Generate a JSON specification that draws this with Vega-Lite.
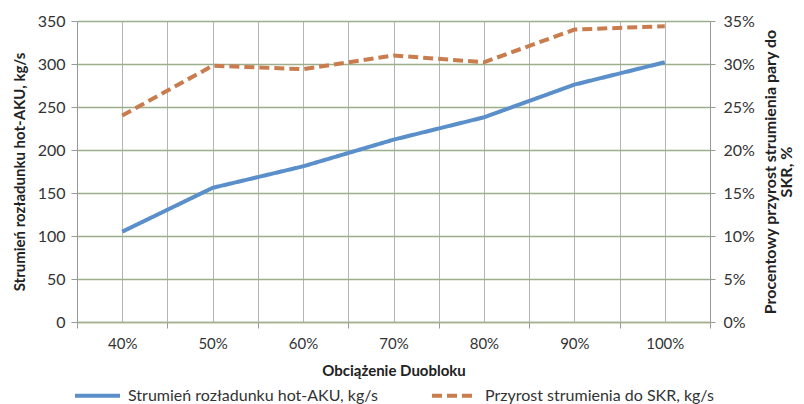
{
  "$schema": "https://vega.github.io/schema/vega-lite/v6.json",
  "autosize": "none",
  "width": 633,
  "height": 301,
  "padding": {"left": 77, "top": 21, "right": 94, "bottom": 82},
  "background": "white",
  "config": {
    "font": "Lato",
    "view": {"stroke": null},
    "axis": {"labelFont": "Lato", "titleFont": "Lato", "labelColor": "#333", "titleColor": "#222"}
  },
  "data": {
    "values": [
      {"x": 40, "series": "Strumień rozładunku hot-AKU, kg/s", "value": 105},
      {"x": 50, "series": "Strumień rozładunku hot-AKU, kg/s", "value": 156},
      {"x": 60, "series": "Strumień rozładunku hot-AKU, kg/s", "value": 181},
      {"x": 70, "series": "Strumień rozładunku hot-AKU, kg/s", "value": 212},
      {"x": 80, "series": "Strumień rozładunku hot-AKU, kg/s", "value": 238},
      {"x": 90, "series": "Strumień rozładunku hot-AKU, kg/s", "value": 276},
      {"x": 100, "series": "Strumień rozładunku hot-AKU, kg/s", "value": 302},
      {"x": 40, "series": "Przyrost strumienia do SKR, kg/s", "value": 0.24},
      {"x": 50, "series": "Przyrost strumienia do SKR, kg/s", "value": 0.298},
      {"x": 60, "series": "Przyrost strumienia do SKR, kg/s", "value": 0.294},
      {"x": 70, "series": "Przyrost strumienia do SKR, kg/s", "value": 0.31},
      {"x": 80, "series": "Przyrost strumienia do SKR, kg/s", "value": 0.302},
      {"x": 90, "series": "Przyrost strumienia do SKR, kg/s", "value": 0.34},
      {"x": 100, "series": "Przyrost strumienia do SKR, kg/s", "value": 0.344}
    ]
  },
  "encoding": {
    "x": {
      "field": "x",
      "type": "quantitative",
      "scale": {"domain": [35, 105], "nice": false, "zero": false},
      "axis": {
        "values": [35, 40, 45, 50, 55, 60, 65, 70, 75, 80, 85, 90, 95, 100, 105],
        "labelExpr": "datum.value % 10 == 0 ? datum.value + '%' : ''",
        "labelFontSize": 15,
        "labelPadding": 8,
        "tickSize": 6,
        "tickColor": "#999",
        "tickOpacity": {"condition": {"test": "datum.value % 10 == 5", "value": 1}, "value": 0},
        "domainColor": "#a8b090",
        "domainWidth": 1.5,
        "grid": true,
        "gridColor": "#b4b4b4",
        "gridWidth": 1,
        "title": "Obciążenie Duobloku",
        "titleFontSize": 15,
        "titleFontWeight": "bold",
        "titlePadding": 12
      }
    },
    "color": {
      "field": "series",
      "type": "nominal",
      "scale": {
        "domain": ["Strumień rozładunku hot-AKU, kg/s", "Przyrost strumienia do SKR, kg/s"],
        "range": ["#5b8fc9", "#c97d4e"]
      },
      "legend": {
        "title": null,
        "orient": "none",
        "direction": "horizontal",
        "legendX": -4,
        "legendY": 350,
        "symbolType": "stroke",
        "symbolSize": 2025,
        "symbolStrokeWidth": 4,
        "labelFontSize": 16,
        "labelColor": "#333",
        "labelFont": "Lato",
        "labelLimit": 0,
        "columnPadding": 46,
        "labelOffset": 6
      }
    },
    "strokeDash": {
      "field": "series",
      "type": "nominal",
      "scale": {
        "domain": ["Strumień rozładunku hot-AKU, kg/s", "Przyrost strumienia do SKR, kg/s"],
        "range": [[1, 0], [10, 5]]
      },
      "legend": {
        "title": null,
        "orient": "none",
        "direction": "horizontal",
        "legendX": -4,
        "legendY": 350,
        "symbolType": "stroke",
        "symbolSize": 2025,
        "symbolStrokeWidth": 4,
        "labelFontSize": 16,
        "labelColor": "#333",
        "labelFont": "Lato",
        "labelLimit": 0,
        "columnPadding": 46,
        "labelOffset": 6
      }
    }
  },
  "layer": [
    {
      "transform": [{"filter": "datum.series == 'Strumień rozładunku hot-AKU, kg/s'"}],
      "mark": {"type": "line", "strokeWidth": 4, "strokeCap": "butt"},
      "encoding": {
        "y": {
          "field": "value",
          "type": "quantitative",
          "scale": {"domain": [0, 350], "nice": false},
          "axis": {
            "values": [0, 50, 100, 150, 200, 250, 300, 350],
            "labelFontSize": 16,
            "labelPadding": 6,
            "tickSize": 6,
            "tickColor": "#999",
            "domainColor": "#999",
            "grid": true,
            "gridColor": "#9cae8c",
            "gridWidth": 1.5,
            "title": "Strumień rozładunku hot-AKU, kg/s",
            "titleFontSize": 15,
            "titleFontWeight": "bold",
            "titlePadding": 10
          }
        }
      }
    },
    {
      "transform": [{"filter": "datum.series == 'Przyrost strumienia do SKR, kg/s'"}],
      "mark": {"type": "line", "strokeWidth": 4, "strokeCap": "butt"},
      "encoding": {
        "y": {
          "field": "value",
          "type": "quantitative",
          "scale": {"domain": [0, 0.35], "nice": false},
          "axis": {
            "orient": "right",
            "values": [0, 0.05, 0.1, 0.15, 0.2, 0.25, 0.3, 0.35],
            "format": ".0%",
            "labelFontSize": 16,
            "labelPadding": 8,
            "tickSize": 5,
            "tickColor": "#999",
            "domainColor": "#999",
            "grid": false,
            "title": ["Procentowy przyrost strumienia pary do", "SKR, %"],
            "titleAngle": 270,
            "titleFontSize": 16,
            "titleFontWeight": "bold",
            "titleLineHeight": 16,
            "titlePadding": 8,
            "titleBaseline": "bottom"
          }
        }
      }
    }
  ],
  "resolve": {"scale": {"y": "independent"}}
}
